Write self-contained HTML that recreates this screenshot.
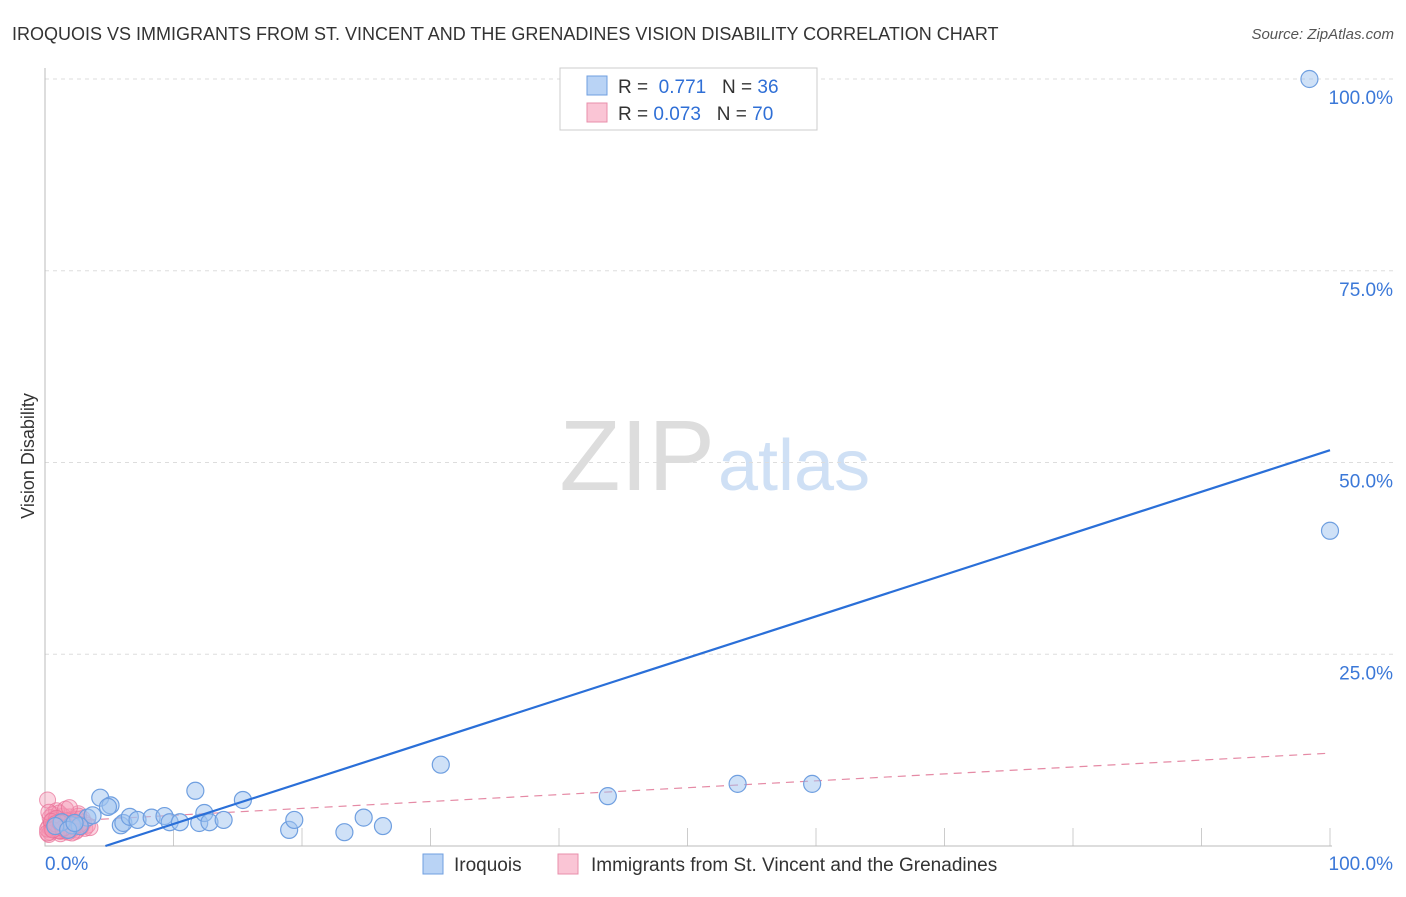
<!DOCTYPE html>
<html><head><meta charset="utf-8"><style>
body{margin:0;background:#fff;font-family:"Liberation Sans",sans-serif;}
svg text{font-family:"Liberation Sans",sans-serif;}
</style></head><body>
<svg id="chart" width="1406" height="892">
<text x="12" y="40" font-size="18" fill="#333">IROQUOIS VS IMMIGRANTS FROM ST. VINCENT AND THE GRENADINES VISION DISABILITY CORRELATION CHART</text>
<text x="1394" y="39" font-size="15" fill="#555" text-anchor="end" font-style="italic">Source: ZipAtlas.com</text>
<text x="715" y="490" font-size="100" fill="#ddd" text-anchor="end" font-family="Liberation Serif">ZIP</text>
<text x="718" y="490" font-size="72" fill="#cfe0f5">atlas</text>
<text x="34" y="456" font-size="18" fill="#333" text-anchor="middle" transform="rotate(-90 34 456)">Vision Disability</text>
<g id="grid"></g>
<g id="marks"></g>
<g>
<rect x="560" y="68" width="257" height="62" fill="#fff" stroke="#ccc"/>
<rect x="587" y="76" width="20" height="19" fill="#b9d3f5" stroke="#6f9fe0"/>
<rect x="587" y="103" width="20" height="19" fill="#fac5d5" stroke="#e88fab"/>
<text x="618" y="93" font-size="19" fill="#333">R = <tspan fill="#2f6fd6">&#160;0.771</tspan>&#160;&#160;&#160;N = <tspan fill="#2f6fd6">36</tspan></text>
<text x="618" y="120" font-size="19" fill="#333">R = <tspan fill="#2f6fd6">0.073</tspan>&#160;&#160;&#160;N = <tspan fill="#2f6fd6">70</tspan></text>
</g>
<g>
<rect x="423" y="854" width="20" height="20" fill="#b9d3f5" stroke="#6f9fe0"/>
<text x="454" y="871" font-size="19" fill="#333">Iroquois</text>
<rect x="558" y="854" width="20" height="20" fill="#fac5d5" stroke="#e88fab"/>
<text x="591" y="871" font-size="19" fill="#333">Immigrants from St. Vincent and the Grenadines</text>
</g>
</svg>
<script>
const yTicks=[25,50,75,100];
const yTickLabels=["25.0%","50.0%","75.0%","100.0%"];
const xTickLabels=["0.0%","100.0%"];
const blueX=[98.4,100,4.3,5.1,4.9,5.9,6.1,6.6,7.2,8.3,9.3,9.7,10.5,11.7,12.0,12.4,12.8,13.9,15.4,19.0,19.4,23.3,24.8,26.3,30.8,43.8,53.9,59.7,3.3,3.7,2.1,2.7,1.3,0.8,1.8,2.3];
const blueY=[100,41.1,6.3,5.3,5.1,2.7,3.0,3.8,3.4,3.7,3.9,3.1,3.1,7.2,3.0,4.3,3.1,3.4,6.0,2.1,3.4,1.8,3.7,2.6,10.6,6.5,8.1,8.1,3.7,4.0,2.7,2.6,3.1,2.6,2.1,3.0];
const pinkX=[0.3,0.5,0.7,0.9,1.1,1.3,1.5,1.7,1.9,2.1,2.3,2.5,2.7,2.9,3.1,3.3,0.4,0.6,0.8,1,1.2,1.4,1.6,1.8,2,2.2,2.4,2.6,2.8,3,0.2,0.5,0.9,1.3,1.7,2.1,2.5,0.3,0.7,1.1,1.5,1.9,2.3,0.4,0.8,1.2,1.6,2,0.2,0.6,1,1.4,1.8,2.2,0.3,0.9,1.5,2.1,0.5,1.1,1.7,0.2,0.8,1.4,2.6,3.5,0.6,1.2,1.9,2.7];
const pinkY=[2.5,3,2.2,3.5,2.8,2,3.1,2.4,3.8,2.6,3.2,2.1,2.9,3.6,2.3,2.7,1.8,4.1,3.3,2.4,1.6,3.9,2.7,2.1,3.4,2.9,1.9,4.2,2.5,3.1,6,2.2,4.6,3,2.6,2.2,3.5,1.5,2.9,4.3,2,3.2,2.6,3.7,2.3,1.9,4.8,2.8,2.2,3.4,2.6,3.1,1.8,2.5,4.4,3.6,2.4,1.7,3.2,2,3.3,1.7,2.9,2.3,3.9,2.4,2.1,3,5,2.8];
const blueTrend=[[4.7,0],[100,51.6]];
const pinkTrend=[[0,3.1],[100,12.1]];
const X0=45,X1=1330,Y0=846,Y1=79;
const sx=v=>X0+(X1-X0)*v/100, sy=v=>Y0-(Y0-Y1)*v/100;
const NS="http://www.w3.org/2000/svg";
function mk(t,a,p){const e=document.createElementNS(NS,t);for(const k in a)e.setAttribute(k,a[k]);p.appendChild(e);return e;}
const g=document.getElementById('grid'),m=document.getElementById('marks');
yTicks.forEach((t,i)=>{
 const l=mk('line',{x1:X0,x2:1395,y1:sy(t),y2:sy(t),stroke:'#ddd','stroke-dasharray':'4 4'},g);
 
 
 const tx=mk('text',{x:1393,y:sy(t)+25,'font-size':19,fill:'#3b78d8','text-anchor':'end'},g);
 tx.textContent=yTickLabels[i];
 
 
});
for(let i=1;i<=10;i++){
 const l=mk('line',{x1:sx(i*10),x2:sx(i*10),y1:828,y2:Y0,stroke:'#ccc'},g);
 
 
}
const ax=mk('path',{d:`M${X0} 68V${Y0}H${X1+2}`,stroke:'#bbb',fill:'none'},g);


const xl=mk('text',{x:45,y:870,'font-size':19,fill:'#3b78d8'},g);xl.textContent=xTickLabels[0];


const xr=mk('text',{x:1393,y:870,'font-size':19,fill:'#3b78d8','text-anchor':'end'},g);xr.textContent=xTickLabels[1];


pinkX.forEach((x,i)=>{
 const c=mk('circle',{cx:sx(x),cy:sy(pinkY[i]),r:8,fill:'rgba(244,150,180,0.4)',stroke:'rgba(232,110,150,0.7)'},m);
 
 
});
const pt=mk('line',{x1:sx(pinkTrend[0][0]),y1:sy(pinkTrend[0][1]),x2:sx(pinkTrend[1][0]),y2:sy(pinkTrend[1][1]),stroke:'#e58aa5','stroke-dasharray':'8 6','stroke-width':1.2},m);


blueX.forEach((x,i)=>{
 const c=mk('circle',{cx:sx(x),cy:sy(blueY[i]),r:8.5,fill:'rgba(160,195,240,0.5)',stroke:'#6f9fe0','stroke-width':1.2},m);
 
 
});
const bt=mk('line',{x1:sx(blueTrend[0][0]),y1:sy(blueTrend[0][1]),x2:sx(blueTrend[1][0]),y2:sy(blueTrend[1][1]),stroke:'#2a6fd8','stroke-width':2.2},m);


</script>
</body></html>
